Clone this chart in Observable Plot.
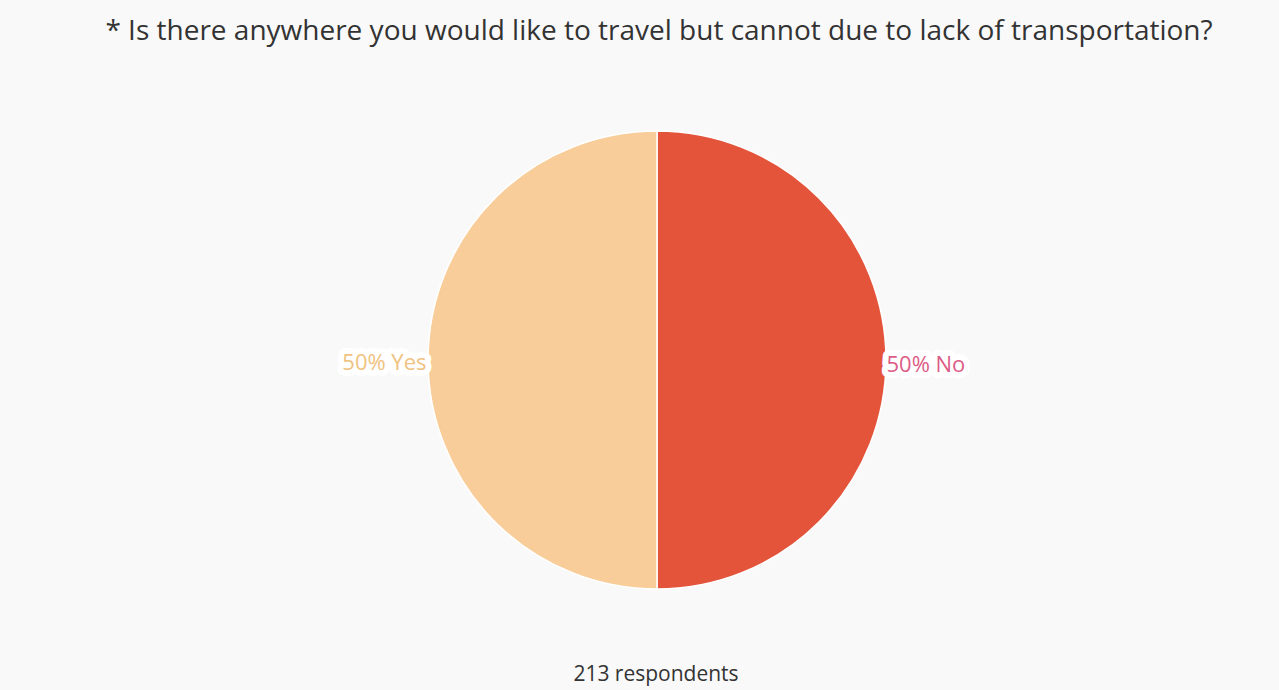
<!DOCTYPE html>
<html>
<head>
<meta charset="utf-8">
<script src="https://cdn.jsdelivr.net/npm/d3@7"></script>
<script src="https://cdn.jsdelivr.net/npm/@observablehq/plot@0.6"></script>
<style>
  html, body { margin: 0; padding: 0; background: #f9f9f9; }
  body { width: 1279px; height: 690px; overflow: hidden; position: relative; font-family: "Open Sans", sans-serif; }
  #title { position: absolute; top: 9px; left: 0; width: 1318px; text-align: center; font-size: 28px; line-height: 40px; color: #333; white-space: nowrap; }
  #chart { position: absolute; top: 60px; left: 0; }
  #caption { position: absolute; top: 659px; left: 0; width: 1312px; text-align: center; font-size: 21px; line-height: 28px; color: #333; white-space: nowrap; }
</style>
</head>
<body>
<div id="title">* Is there anywhere you would like to travel but cannot due to lack of transportation?</div>
<div id="chart"></div>
<div id="caption">213 respondents</div>
<script>
const categories = ["No", "Yes"];
const percents = [50, 50];
const sliceColors = ["#e4543b", "#f9cd99"];
const labelColors = ["#dc5c86", "#f0c27f"];

const pie = d3.pie().sort(null).value(d => d.value);
const slices = pie(categories.map((c, i) => ({category: c, value: percents[i]})));
const labelData = slices.map(s => {
  const a = (s.startAngle + s.endAngle) / 2;
  return {
    category: s.data.category,
    label: `${s.data.value}% ${s.data.category}`,
    x: Math.sin(a),
    y: Math.cos(a),
    anchor: Math.sin(a) >= 0 ? "start" : "end"
  };
});

const cx = 657, cy = 300, R = 229;

const pieMark = (index, scales, values, dimensions) => {
  const x0 = scales.x(0), y0 = scales.y(0);
  const r = scales.x(1) - scales.x(0);
  const arc = d3.arc().innerRadius(0).outerRadius(r);
  const g = d3.create("svg:g").attr("transform", `translate(${x0},${y0})`);
  g.selectAll("path").data(slices).join("path")
    .attr("d", arc)
    .attr("fill", d => scales.color(d.data.category))
    .attr("stroke", "#ffffff")
    .attr("stroke-width", 1.5);
  return g.node();
};

const chart = Plot.plot({
  width: 1279,
  height: 600,
  margin: 0,
  style: {background: "transparent", fontFamily: "Open Sans, sans-serif"},
  x: {domain: [-1, 1], range: [cx - R, cx + R], axis: null},
  y: {domain: [-1, 1], range: [cy + R, cy - R], axis: null},
  color: {domain: categories, range: sliceColors},
  marks: [
    pieMark,
    Plot.text(labelData.filter(d => d.anchor === "start"), {
      x: "x", y: "y", text: "label", textAnchor: "start", dx: 0, dy: 4,
      fontSize: 22, fill: labelColors[0], stroke: "white", strokeWidth: 12
    }),
    Plot.text(labelData.filter(d => d.anchor === "end"), {
      x: "x", y: "y", text: "label", textAnchor: "end", dx: -2, dy: 2,
      fontSize: 22, fill: labelColors[1], stroke: "white", strokeWidth: 12
    })
  ]
});
document.getElementById("chart").appendChild(chart);
</script>
</body>
</html>
